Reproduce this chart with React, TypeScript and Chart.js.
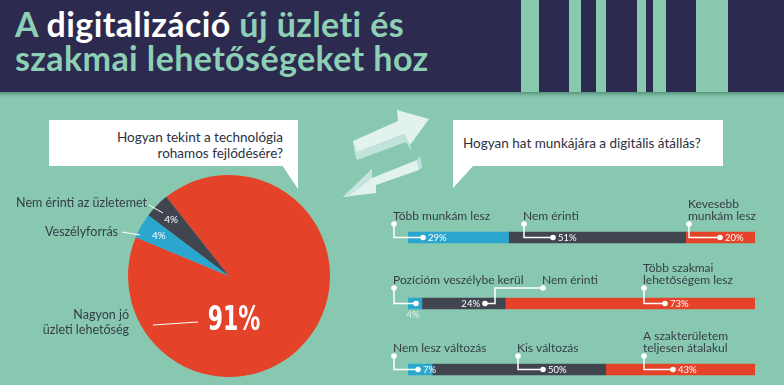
import React, { useEffect, useRef } from "react";
import { Chart, registerables } from "chart.js";
Chart.register(...registerables);

// ---------- DATA ----------
const pieLabels = ["Nagyon jó üzleti lehetőség", "Veszélyforrás", "Nem érinti az üzletemet"];
const pieValues = [91, 4, 4];
const pieValueText = ["91%", "4%", "4%"];

const barRows = ["Munkamennyiség", "Pozíció", "Szakterület"];
const seg1Values = [29, 4, 7];
const seg2Values = [51, 24, 50];
const seg3Values = [20, 73, 43];
const seg1Labels = [["Több munkám lesz"], ["Pozícióm veszélybe kerül"], ["Nem lesz változás"]];
const seg2Labels = [["Nem érinti"], ["Nem érinti"], ["Kis változás"]];
const seg3Labels = [["Kevesebb", "munkám lesz"], ["Több szakmai", "lehetőségem lesz"], ["A szakterületem", "teljesen átalakul"]];

// ---------- STYLE ----------
const BG = "#88c8b0";
const NAVY = "#2d2a50";
const RED = "#e4432a";
const BLUE = "#2ba6cf";
const DARK = "#40454f";
const TEXT = "#363d47";
const FONT = "Lato, 'Open Sans', sans-serif";

// pie annotation layout (px offsets from pie centre)
const pieLabelLayout = [
  { tx: -100, ty: [39, 54], from: [-31, 46], to: [-76, 49] },
  { tx: -111, ty: [-44], from: [-89, -41], to: [-107, -44] },
  { tx: -82, ty: [-73], from: [-66, -63], to: [-80, -71] },
];

// bar annotation layout (canvas px): label x, dot x, mode
const barLayout = [
  [
    { lx: 13, dx: 43, ly: -21.5 },
    { lx: 143, dx: 173, ly: -21.5 },
    { lx: 308, dx: 340, ly: -21.5 },
  ],
  [
    { lx: 13, dx: 36, ly: -23.5, below: true },
    { lx: 162, dx: 105, ly: -23.5, reverse: true, elbow: 115 },
    { lx: 263, dx: 285, ly: -23.5 },
  ],
  [
    { lx: 13, dx: 38, ly: -21.5 },
    { lx: 137, dx: 163, ly: -21.5 },
    { lx: 263, dx: 293, ly: -21.5 },
  ],
];

function PieChart() {
  const ref = useRef<HTMLCanvasElement>(null);
  useEffect(() => {
    const labelPlugin = {
      id: "pieLabels",
      afterDatasetsDraw(chart: any) {
        const ctx = chart.ctx;
        const meta = chart.getDatasetMeta(0);
        const arc0 = meta.data[0];
        const cx = arc0.x, cy = arc0.y, R = arc0.outerRadius;
        ctx.save();
        [1, 2].forEach((i) => {
          const a = meta.data[i];
          const mid = (a.startAngle + a.endAngle) / 2;
          const r = R * 0.8;
          ctx.fillStyle = "#ffffff";
          ctx.font = `10px ${FONT}`;
          ctx.textAlign = "center";
          ctx.textBaseline = "middle";
          ctx.fillText(pieValueText[i], cx + r * Math.cos(mid), cy + r * Math.sin(mid));
        });
        ctx.save();
        ctx.translate(cx + 5, cy + 45);
        ctx.scale(0.72, 1);
        ctx.fillStyle = "#ffffff";
        ctx.font = `bold 34px 'Liberation Sans Narrow', 'DejaVu Sans Condensed', sans-serif`;
        ctx.textAlign = "center";
        ctx.textBaseline = "middle";
        ctx.fillText(pieValueText[0], 0, 0);
        ctx.restore();
        pieLabelLayout.forEach((L, i) => {
          ctx.strokeStyle = "#ffffff";
          ctx.lineWidth = 1;
          ctx.beginPath();
          ctx.moveTo(cx + L.from[0], cy + L.from[1]);
          ctx.lineTo(cx + L.to[0], cy + L.to[1]);
          ctx.stroke();
          ctx.fillStyle = TEXT;
          ctx.font = `12.5px ${FONT}`;
          ctx.textAlign = "right";
          ctx.textBaseline = "middle";
          const lines = i === 0 ? ["Nagyon jó", "üzleti lehetőség"] : [pieLabels[i]];
          lines.forEach((t, k) => ctx.fillText(t, cx + L.tx, cy + L.ty[k]));
        });
        ctx.restore();
      },
    };
    const chart = new Chart(ref.current!, {
      type: "pie",
      data: {
        labels: pieLabels,
        datasets: [{ data: pieValues, backgroundColor: [RED, BLUE, DARK], borderWidth: 0 }],
      },
      options: {
        animation: false,
        responsive: false,
        rotation: -38.4,
        layout: { padding: { left: 128, right: 30, top: 15, bottom: 8 } },
        plugins: { legend: { display: false }, tooltip: { enabled: false } },
      },
      plugins: [labelPlugin],
    });
    return () => chart.destroy();
  }, []);
  return <canvas ref={ref} width={360} height={225} style={{ position: "absolute", left: 0, top: 160, width: 360, height: 225 }} />;
}

function BarChart() {
  const ref = useRef<HTMLCanvasElement>(null);
  useEffect(() => {
    const annot = {
      id: "barAnnot",
      afterDatasetsDraw(chart: any) {
        const ctx = chart.ctx;
        const ys = chart.scales.y;
        const segLabels = [seg1Labels, seg2Labels, seg3Labels];
        const segValues = [seg1Values, seg2Values, seg3Values];
        ctx.save();
        barRows.forEach((_, row) => {
          const y = ys.getPixelForValue(row);
          barLayout[row].forEach((L: any, s) => {
            const lines = segLabels[s][row];
            const lastLineY = y + L.ly;
            ctx.fillStyle = TEXT;
            ctx.font = `12px ${FONT}`;
            ctx.textAlign = "left";
            ctx.textBaseline = "middle";
            lines.forEach((t: string, k: number) => {
              ctx.fillText(t, L.lx, lastLineY - (lines.length - 1 - k) * 11.5);
            });
            const cy = lastLineY + 8;
            const circX = L.lx + 1;
            ctx.strokeStyle = "#ffffff";
            ctx.fillStyle = "#ffffff";
            ctx.lineWidth = 1.5;
            ctx.beginPath();
            if (L.reverse) {
              ctx.moveTo(circX, cy);
              ctx.lineTo(L.elbow, cy);
              ctx.lineTo(L.elbow, y);
              ctx.lineTo(L.dx, y);
            } else {
              ctx.moveTo(circX, cy);
              ctx.lineTo(circX, y);
              ctx.lineTo(L.dx, y);
            }
            ctx.stroke();
            ctx.beginPath();
            ctx.arc(circX, cy, 2.8, 0, Math.PI * 2);
            ctx.fill();
            ctx.beginPath();
            ctx.arc(L.dx, y, 2.8, 0, Math.PI * 2);
            ctx.fill();
            const v = segValues[s][row] + "%";
            ctx.font = `9.5px ${FONT}`;
            ctx.textBaseline = "middle";
            if (L.below) {
              ctx.fillStyle = "#e2f3ee";
              ctx.textAlign = "center";
              ctx.fillText(v, L.dx - 3, y + 11);
            } else if (L.reverse) {
              ctx.fillStyle = "#ffffff";
              ctx.textAlign = "right";
              ctx.fillText(v, L.dx - 5, y + 0.5);
            } else {
              ctx.fillStyle = "#ffffff";
              ctx.textAlign = "left";
              ctx.fillText(v, L.dx + 5, y + 0.5);
            }
          });
        });
        ctx.restore();
      },
    };
    const clip = { left: 0, right: 0, top: 10, bottom: 10 };
    const chart = new Chart(ref.current!, {
      type: "bar",
      data: {
        labels: barRows,
        datasets: [
          { data: seg1Values, backgroundColor: BLUE, barThickness: 11, clip } as any,
          { data: seg2Values, backgroundColor: DARK, barThickness: 11, clip } as any,
          { data: seg3Values, backgroundColor: RED, barThickness: 11, clip } as any,
        ],
      },
      options: {
        animation: false,
        responsive: false,
        indexAxis: "y",
        layout: { padding: { left: 28, right: 29, top: 47.5, bottom: 15.5 } },
        scales: {
          x: { stacked: true, min: 0, max: 100, display: false },
          y: { stacked: true, offset: false, display: false },
        },
        plugins: { legend: { display: false }, tooltip: { enabled: false } },
      },
      plugins: [annot],
    });
    return () => chart.destroy();
  }, []);
  return <canvas ref={ref} width={404} height={195} style={{ position: "absolute", left: 380, top: 190, width: 404, height: 195 }} />;
}

const stripes = [
  [521, 18], [569, 12], [596, 10], [637, 9], [653, 13], [696, 32],
];

export default function App() {
  return (
    <div style={{ position: "fixed", left: 0, top: 0, width: 784, height: 385, overflow: "hidden", background: BG, fontFamily: FONT }}>
      <svg width={784} height={385} style={{ position: "absolute", left: 0, top: 0 }}>
        <defs>
          <linearGradient id="sh" x1="0" y1="0" x2="0" y2="1">
            <stop offset="0" stopColor="#4f8a73" stopOpacity="0.9" />
            <stop offset="1" stopColor={BG} stopOpacity="0" />
          </linearGradient>
        </defs>
        <rect x={0} y={0} width={784} height={92} fill={NAVY} />
        {stripes.map(([x, w], i) => (
          <rect key={i} x={x} y={0} width={w} height={92} fill="#89c9b0" />
        ))}
        <rect x={0} y={92} width={784} height={7} fill="url(#sh)" />
        <rect x={49} y={120} width={249} height={46} fill="#ffffff" />
        <polygon points="282,165 298,165 298,189" fill="#ffffff" />
        <rect x={453} y={120} width={270} height={46} fill="#ffffff" />
        <polygon points="453,165 474,165 453,188" fill="#ffffff" />
        <g>
          <polygon points="353,141 398,121 397,110 429,119 410,145 404,134 355,153" fill="#e1f2ef" />
          <polygon points="353,141 355,153 357,160 356,148" fill="#bfe1db" />
          <polygon points="355,153 404,134 410,145 412,152 406,142 357,160" fill="#c2e2dc" />
          <polygon points="417,160 372,178 372,169 343,197 376,193 376,185 419,170" fill="#e1f2ef" />
          <polygon points="417,160 419,170 422,167 420,156" fill="#c0e2dc" />
          <polygon points="372,178 372,169 343,197 348,197" fill="#c5e4df" />
        </g>
      </svg>
      <div style={{ position: "absolute", left: 15, top: 7, fontWeight: 700, fontSize: 34, lineHeight: "34px", letterSpacing: 0.4, color: "#8dd0b5", whiteSpace: "nowrap" }}>
        <div>A <span style={{ color: "#ffffff" }}>digitalizáció</span> új üzleti és</div>
        <div>szakmai lehetőségeket hoz</div>
      </div>
      <div style={{ position: "absolute", left: 60, width: 223, top: 129, textAlign: "right", fontSize: 13.5, lineHeight: "16px", color: "#2c3142" }}>
        Hogyan tekint a technológia<br />rohamos fejlődésére?
      </div>
      <div style={{ position: "absolute", left: 463, top: 135, fontSize: 13.5, lineHeight: "16px", color: "#2c3142", whiteSpace: "nowrap" }}>
        Hogyan hat munkájára a digitális átállás?
      </div>
      <PieChart />
      <BarChart />
    </div>
  );
}
